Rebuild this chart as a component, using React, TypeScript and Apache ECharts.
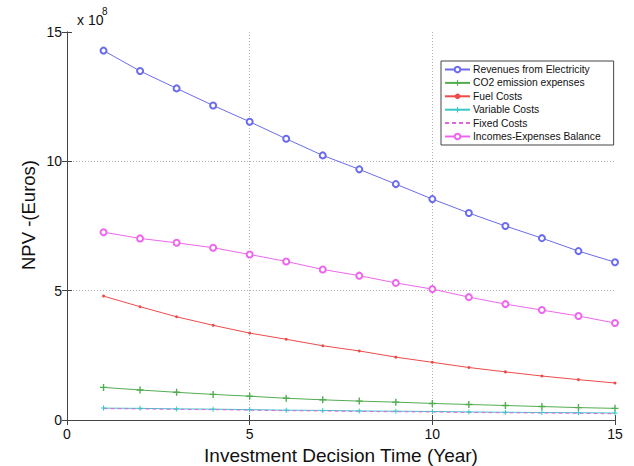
import React, { useEffect, useRef } from "react";
import * as echarts from "echarts";

// Investment decision year (x axis)
const years = [1, 2, 3, 4, 5, 6, 7, 8, 9, 10, 11, 12, 13, 14, 15];

// Net present values, in units of 10^8 Euros
const revenues = [14.28, 13.49, 12.82, 12.16, 11.53, 10.87, 10.23, 9.69, 9.12, 8.54, 8.0, 7.5, 7.03, 6.53, 6.1];
const co2Expenses = [1.26, 1.16, 1.07, 0.99, 0.92, 0.84, 0.78, 0.73, 0.69, 0.64, 0.6, 0.56, 0.52, 0.48, 0.45];
const fuelCosts = [4.79, 4.38, 3.99, 3.66, 3.36, 3.12, 2.87, 2.67, 2.43, 2.23, 2.03, 1.86, 1.7, 1.56, 1.43];
const variableCosts = [0.46, 0.45, 0.43, 0.42, 0.4, 0.38, 0.37, 0.35, 0.34, 0.33, 0.31, 0.3, 0.29, 0.28, 0.27];
const fixedCosts = [0.44, 0.43, 0.41, 0.4, 0.38, 0.36, 0.35, 0.33, 0.32, 0.31, 0.29, 0.28, 0.27, 0.26, 0.24];
const balance = [7.26, 7.02, 6.85, 6.66, 6.4, 6.13, 5.82, 5.58, 5.3, 5.06, 4.75, 4.48, 4.25, 4.02, 3.75];

const seriesNames = [
  "Revenues from Electricity",
  "CO2 emission expenses",
  "Fuel Costs",
  "Variable Costs",
  "Fixed Costs",
  "Incomes-Expenses Balance",
];

const xTicks = { min: 0, max: 15, interval: 5 };
const yTicks = { min: 0, max: 15, interval: 5 };

const FONT = "'Liberation Sans', Arial, sans-serif";
const PLUS = "path://M4,0 H6 V4 H10 V6 H6 V10 H4 V6 H0 V4 H4 Z";

const pairs = (ys: number[]) => years.map((x, i) => [x, ys[i]]);

export default function App() {
  const ref = useRef<HTMLDivElement>(null);

  useEffect(() => {
    if (!ref.current) return;
    const chart = echarts.init(ref.current, undefined, { renderer: "svg" });

    const splitLine = {
      show: true,
      showMinLine: false,
      showMaxLine: false,
      lineStyle: { color: "#b0b0b0", type: [1, 2] as any, width: 1 },
    };
    const tick = { show: true, inside: true, length: 5, lineStyle: { color: "#444" } };
    const axisLine = { show: true, lineStyle: { color: "#444", width: 1 } };
    const label = { fontSize: 14, color: "#111", fontFamily: FONT };

    const line = (name: string, data: number[], color: string, extra: any) => ({
      name,
      type: "line",
      data: pairs(data),
      color,
      lineStyle: { width: 1, color },
      itemStyle: { color },
      emphasis: { disabled: true },
      ...extra,
    });

    chart.setOption({
      animation: false,
      grid: {
        left: 67,
        top: 32,
        width: 548,
        height: 388,
        containLabel: false,
        outerBoundsMode: "none",
      },
      xAxis: [
        {
          type: "value",
          ...xTicks,
          position: "bottom",
          axisLine,
          axisTick: tick,
          splitLine,
          axisLabel: { ...label, margin: 7 },
          name: "Investment Decision Time (Year)",
          nameLocation: "middle",
          nameGap: 24,
          nameTextStyle: { fontSize: 19, color: "#111", fontFamily: FONT },
        },
        {
          type: "value",
          ...xTicks,
          position: "top",
          axisLine,
          axisTick: tick,
          splitLine: { show: false },
          axisLabel: { show: false },
        },
      ],
      yAxis: [
        {
          type: "value",
          ...yTicks,
          position: "left",
          axisLine,
          axisTick: tick,
          splitLine,
          axisLabel: { ...label, margin: 5 },
        },
        {
          type: "value",
          ...yTicks,
          position: "right",
          axisLine,
          axisTick: tick,
          splitLine: { show: false },
          axisLabel: { show: false },
        },
      ],
      legend: {
        orient: "vertical",
        left: 441,
        top: 61,
        padding: [3, 13, 3, 3],
        itemWidth: 25,
        itemHeight: 7,
        itemGap: 2.4,
        backgroundColor: "#fff",
        borderColor: "#444",
        borderWidth: 1,
        borderRadius: 0,
        textStyle: {
          fontSize: 10.3,
          lineHeight: 11,
          color: "#111",
          fontFamily: FONT,
          padding: [0, 0, 0, -2],
        },
        selectedMode: false,
        data: seriesNames.map((name) =>
          name === "Fixed Costs" ? { name, itemStyle: { opacity: 0 } } : { name }
        ),
      },
      graphic: [
        {
          type: "text",
          left: 77,
          top: 13,
          style: { text: "x 10", fontSize: 14, fill: "#111", fontFamily: FONT },
        },
        {
          type: "text",
          left: 102,
          top: 6,
          style: { text: "8", fontSize: 10, fill: "#111", fontFamily: FONT },
        },
        {
          type: "text",
          x: 28,
          y: 215,
          rotation: Math.PI / 2,
          style: {
            text: "NPV -(Euros)",
            fontSize: 18.5,
            fill: "#111",
            fontFamily: FONT,
            align: "center",
            verticalAlign: "middle",
          },
        },
      ],
      series: [
        line(seriesNames[0], revenues, "#6b6bef", {
          symbol: "emptyCircle",
          symbolSize: 6,
        }),
        line(seriesNames[1], co2Expenses, "#52ad52", {
          symbol: PLUS,
          symbolSize: 7,
        }),
        line(seriesNames[2], fuelCosts, "#ef4b4b", {
          symbol: "circle",
          symbolSize: 3,
        }),
        line(seriesNames[3], variableCosts, "#3cc6c6", {
          symbol: PLUS,
          symbolSize: 5,
        }),
        line(seriesNames[4], fixedCosts, "#dd66dd", {
          symbol: "none",
          lineStyle: { width: 1, color: "#dd66dd", type: [4, 3] },
        }),
        line(seriesNames[5], balance, "#ee66ee", {
          symbol: "emptyCircle",
          symbolSize: 6,
        }),
      ],
    });

    return () => chart.dispose();
  }, []);

  return (
    <div
      ref={ref}
      style={{ position: "fixed", left: 0, top: 0, width: 634, height: 466, background: "#fff" }}
    />
  );
}
